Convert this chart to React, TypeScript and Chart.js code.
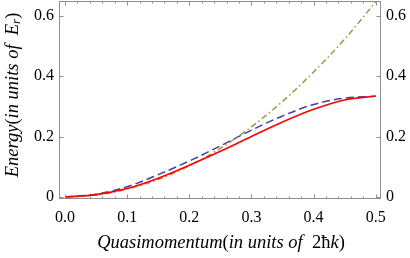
import React, { useEffect, useRef } from "react";
import { Chart, registerables } from "chart.js";

Chart.register(...registerables);

// Quasimomentum (units of 2ħk)
const quasimomentum = [0, 0.05, 0.1, 0.15, 0.2, 0.25, 0.3, 0.35, 0.4, 0.45, 0.5];
// Lowest band (red, solid)
const lowestBand = [0, 0.008, 0.028, 0.062, 0.105, 0.151, 0.2, 0.248, 0.29, 0.321, 0.334];
// Tight-binding approximation (blue, dashed)
const tightBinding = [0, 0.009, 0.034, 0.074, 0.119, 0.169, 0.221, 0.268, 0.306, 0.327, 0.333];
// Free particle (olive, dash-dot)
const freeParticle = [0, 0.0065, 0.026, 0.058, 0.103, 0.161, 0.232, 0.316, 0.413, 0.522, 0.645];

const xTickValues = [0, 0.1, 0.2, 0.3, 0.4, 0.5];
const yTickValues = [0, 0.2, 0.4, 0.6];

const SERIF = "'Liberation Serif', 'DejaVu Serif', serif";

const toPoints = (ys: number[]) => quasimomentum.map((q, i) => ({ x: q, y: ys[i] }));

const framePlugin = {
  id: "frameTicks",
  afterDatasetsDraw(chart: any) {
    const { ctx, chartArea } = chart;
    const { left, right, top, bottom } = chartArea;
    const xs = chart.scales.x;
    const ys = chart.scales.y;
    ctx.save();
    ctx.strokeStyle = "#8f8f8f";
    ctx.lineWidth = 1;
    ctx.strokeRect(left + 0.5, top + 0.5, right - left - 1, bottom - top - 1);
    ctx.beginPath();
    for (let i = 0; i <= 25; i++) {
      const v = i * 0.02;
      const px = Math.round(xs.getPixelForValue(v)) + 0.5;
      const len = i % 5 === 0 ? 4.5 : 2.5;
      ctx.moveTo(px, bottom);
      ctx.lineTo(px, bottom - len);
      ctx.moveTo(px, top);
      ctx.lineTo(px, top + len);
    }
    for (let i = 0; i <= 3; i++) {
      const v = i * 0.2;
      const py = Math.round(ys.getPixelForValue(v)) + 0.5;
      const len = 4.5;
      ctx.moveTo(left, py);
      ctx.lineTo(left + len, py);
      ctx.moveTo(right, py);
      ctx.lineTo(right - len, py);
    }
    ctx.stroke();
    ctx.restore();
  },
  afterDraw(chart: any) {
    const { ctx } = chart;
    ctx.save();
    ctx.fillStyle = "#000";
    ctx.textBaseline = "middle";
    const drawSegs = (segs: { t: string; f: string; dy?: number }[], cx: number, cy: number, rot: boolean) => {
      let total = 0;
      for (const s of segs) {
        ctx.font = s.f;
        total += ctx.measureText(s.t).width;
      }
      ctx.save();
      ctx.translate(cx, cy);
      if (rot) ctx.rotate(-Math.PI / 2);
      let xpos = -total / 2;
      ctx.textAlign = "left";
      for (const s of segs) {
        ctx.font = s.f;
        ctx.fillText(s.t, xpos, s.dy || 0);
        xpos += ctx.measureText(s.t).width;
      }
      ctx.restore();
    };
    const it = `italic 18.5px ${SERIF}`;
    const up = `18.5px ${SERIF}`;
    drawSegs(
      [
        { t: "Quasimomentum", f: it },
        { t: "(", f: up },
        { t: "in units of ", f: it },
        { t: " 2\u0127", f: up },
        { t: "k", f: it },
        { t: ")", f: up },
      ],
      221,
      243,
      false
    );
    drawSegs(
      [
        { t: "Energy", f: it },
        { t: "(", f: up },
        { t: "in units of ", f: it },
        { t: " E", f: it },
        { t: "r", f: `italic 13px ${SERIF}`, dy: 4 },
        { t: ")", f: up },
      ],
      13,
      95,
      true
    );
    ctx.restore();
  },
};

export default function App() {
  const ref = useRef<HTMLCanvasElement>(null);
  useEffect(() => {
    if (!ref.current) return;
    const tickFont = { family: SERIF, size: 16 };
    const noPad = (s: any) => {
      s.paddingTop = 0;
      s.paddingBottom = 0;
      s.paddingLeft = 0;
      s.paddingRight = 0;
    };
    const chart = new Chart(ref.current, {
      type: "line",
      data: {
        datasets: [
          {
            label: "Lowest band",
            data: toPoints(lowestBand),
            borderColor: "#ff0000",
            borderWidth: 1.6,
            pointRadius: 0,
            cubicInterpolationMode: "monotone",
            fill: false,
          },
          {
            label: "Free particle",
            data: toPoints(freeParticle),
            borderColor: "#a09445",
            borderWidth: 1.5,
            borderDash: [6, 3, 1.5, 3],
            pointRadius: 0,
            cubicInterpolationMode: "monotone",
            fill: false,
          },
          {
            label: "Tight binding",
            data: toPoints(tightBinding),
            borderColor: "#4343a3",
            borderWidth: 1.5,
            borderDash: [8, 4],
            pointRadius: 0,
            cubicInterpolationMode: "monotone",
            fill: false,
          },
        ],
      },
      options: {
        animation: false,
        responsive: false,
        layout: { padding: { top: 1, left: 0, right: 0, bottom: 0 } },
        plugins: { legend: { display: false }, tooltip: { enabled: false } },
        scales: {
          x: {
            type: "linear",
            position: "bottom",
            min: -0.00966,
            max: 0.5085,
            grid: { display: false, drawTicks: false },
            border: { display: false },
            afterFit: (s: any) => {
              s.height = 59;
              noPad(s);
            },
            afterBuildTicks: (s: any) => {
              s.ticks = xTickValues.map((v) => ({ value: v }));
            },
            ticks: {
              autoSkip: false,
              maxRotation: 0,
              padding: 9,
              color: "#000",
              font: tickFont,
              callback: (v: any) => Number(v).toFixed(1),
            },
          },
          y: {
            type: "linear",
            position: "left",
            min: -0.0066,
            max: 0.648,
            grid: { display: false, drawTicks: false },
            border: { display: false },
            afterFit: (s: any) => {
              s.width = 59;
              noPad(s);
            },
            afterBuildTicks: (s: any) => {
              s.ticks = yTickValues.map((v) => ({ value: v }));
            },
            ticks: {
              autoSkip: false,
              padding: 5,
              color: "#000",
              font: tickFont,
              callback: (v: any) => (Number(v) === 0 ? "0" : Number(v).toFixed(1)),
            },
          },
          y2: {
            type: "linear",
            position: "right",
            min: -0.0066,
            max: 0.648,
            grid: { display: false, drawTicks: false },
            border: { display: false },
            afterFit: (s: any) => {
              s.width = 29;
              noPad(s);
            },
            afterBuildTicks: (s: any) => {
              s.ticks = yTickValues.map((v) => ({ value: v }));
            },
            ticks: {
              autoSkip: false,
              padding: 5,
              color: "#000",
              font: tickFont,
              callback: (v: any) => (Number(v) === 0 ? "0" : Number(v).toFixed(1)),
            },
          },
        },
      },
      plugins: [framePlugin],
    } as any);
    return () => chart.destroy();
  }, []);
  return (
    <div style={{ position: "absolute", left: 0, top: 0, width: 410, height: 258 }}>
      <canvas ref={ref} width={410} height={258} style={{ display: "block" }} />
    </div>
  );
}
